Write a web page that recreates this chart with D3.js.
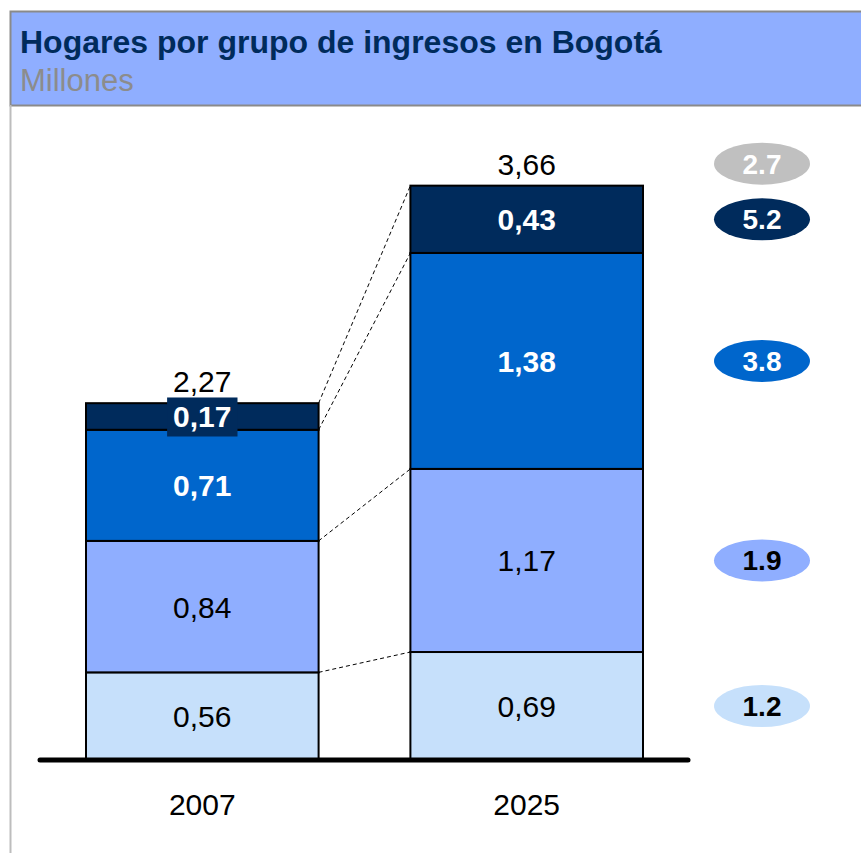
<!DOCTYPE html>
<html>
<head>
<meta charset="utf-8">
<script src="https://cdn.jsdelivr.net/npm/d3@7"></script>
<style>
  body { margin: 0; background: #fff; }
  text { font-family: "Liberation Sans", Arial, sans-serif; }
</style>
</head>
<body>
<div id="chart"></div>
<script>
// data
const years = ['2007', '2025'];
const groups = ['bajo', 'medio', 'alto', 'muyAlto'];
const values2007 = [0.56, 0.84, 0.71, 0.17];
const values2025 = [0.69, 1.17, 1.38, 0.43];
const totals = ['2,27', '3,66'];
const growthLabels = ['1.2', '1.9', '3.8', '5.2'];
const totalGrowth = '2.7';

const colors = ['#c6e0fb', '#8faeff', '#0066cc', '#002b5c'];
const labelColors = ['#000', '#000', '#fff', '#fff'];
const fmt = v => v.toFixed(2).replace('.', ',');

const width = 861, height = 853;

const svg = d3.select('#chart').append('svg')
  .attr('width', width)
  .attr('height', height);

// header box
svg.append('rect')
  .attr('x', 10.5).attr('y', 11.5)
  .attr('width', width).attr('height', 94)
  .attr('fill', '#8faeff')
  .attr('stroke', '#8a8a8a')
  .attr('stroke-width', 2);

svg.append('line')
  .attr('x1', 10.5).attr('x2', 10.5)
  .attr('y1', 105).attr('y2', height)
  .attr('stroke', '#bdbdbd')
  .attr('stroke-width', 2);

svg.append('text')
  .attr('x', 20).attr('y', 53)
  .attr('fill', '#002b5c')
  .attr('font-size', 32)
  .attr('font-weight', 'bold')
  .text('Hogares por grupo de ingresos en Bogotá');

svg.append('text')
  .attr('x', 20).attr('y', 91)
  .attr('fill', '#8c8c8c')
  .attr('font-size', 31)
  .text('Millones');

// scales
const baseY = 760;
const y = d3.scaleLinear().domain([0, 1]).range([baseY, baseY - 156.5]);
const x = d3.scaleBand().domain(years).range([86, 643]).paddingInner(0.283).paddingOuter(0);

const table = years.map((yr, i) => {
  const vals = i === 0 ? values2007 : values2025;
  const row = { year: yr };
  groups.forEach((g, j) => row[g] = vals[j]);
  return row;
});
const stacked = d3.stack().keys(groups)(table);

const chart = svg.append('g');

// dashed connectors between bars
groups.forEach((g, j) => {
  const s = stacked[j];
  chart.append('line')
    .attr('x1', x('2007') + x.bandwidth()).attr('y1', y(s[0][1]))
    .attr('x2', x('2025')).attr('y2', y(s[1][1]))
    .attr('stroke', '#000')
    .attr('stroke-width', 1)
    .attr('stroke-dasharray', '4,3');
});

// segments
stacked.forEach((s, j) => {
  chart.selectAll(null)
    .data(s)
    .join('rect')
    .attr('x', d => x(d.data.year))
    .attr('y', d => y(d[1]))
    .attr('width', x.bandwidth())
    .attr('height', d => y(d[0]) - y(d[1]))
    .attr('fill', colors[j])
    .attr('stroke', '#000')
    .attr('stroke-width', 2);
});

// segment labels
stacked.forEach((s, j) => {
  s.forEach((d, i) => {
    const cx = x(d.data.year) + x.bandwidth() / 2;
    const cy = (y(d[0]) + y(d[1])) / 2;
    const val = d[1] - d[0];
    const t = chart.append('text')
      .attr('x', cx).attr('y', cy + 11)
      .attr('text-anchor', 'middle')
      .attr('font-size', 30)
      .attr('font-weight', j >= 2 ? 'bold' : 'normal')
      .attr('fill', labelColors[j])
      .text(fmt(val));
    // small segment gets its own background box
    if (y(d[0]) - y(d[1]) < 35) {
      const bb = t.node().getBBox();
      chart.insert('rect', () => t.node())
        .attr('x', bb.x - 6).attr('y', cy - 19)
        .attr('width', bb.width + 12).attr('height', 39)
        .attr('fill', colors[j]);
    }
  });
});

// totals above bars
years.forEach((yr, i) => {
  const top = stacked[stacked.length - 1][i][1];
  chart.append('text')
    .attr('x', x(yr) + x.bandwidth() / 2)
    .attr('y', y(top) - 11)
    .attr('text-anchor', 'middle')
    .attr('font-size', 30)
    .text(totals[i]);
});

// baseline
chart.append('line')
  .attr('x1', 40).attr('x2', 688)
  .attr('y1', baseY).attr('y2', baseY)
  .attr('stroke', '#000')
  .attr('stroke-width', 5)
  .attr('stroke-linecap', 'round');

// x labels
years.forEach(yr => {
  chart.append('text')
    .attr('x', x(yr) + x.bandwidth() / 2)
    .attr('y', 815)
    .attr('text-anchor', 'middle')
    .attr('font-size', 30)
    .text(yr);
});

// growth ellipses
const ex = 762;
const bubbles = groups.map((g, j) => {
  const d = stacked[j][1];
  return { label: growthLabels[j], cy: (y(d[0]) + y(d[1])) / 2, fill: colors[j], color: labelColors[j] };
});
bubbles.push({ label: totalGrowth, cy: y(stacked[3][1][1]) - 22, fill: '#c0c0c0', color: '#fff' });

const bg = chart.selectAll('.bubble')
  .data(bubbles)
  .join('g')
  .attr('class', 'bubble')
  .attr('transform', d => `translate(${ex},${d.cy})`);

bg.append('ellipse')
  .attr('rx', 48).attr('ry', 21)
  .attr('fill', d => d.fill);

bg.append('text')
  .attr('y', 10)
  .attr('text-anchor', 'middle')
  .attr('font-size', 28)
  .attr('font-weight', 'bold')
  .attr('fill', d => d.color)
  .text(d => d.label);
</script>
</body>
</html>
